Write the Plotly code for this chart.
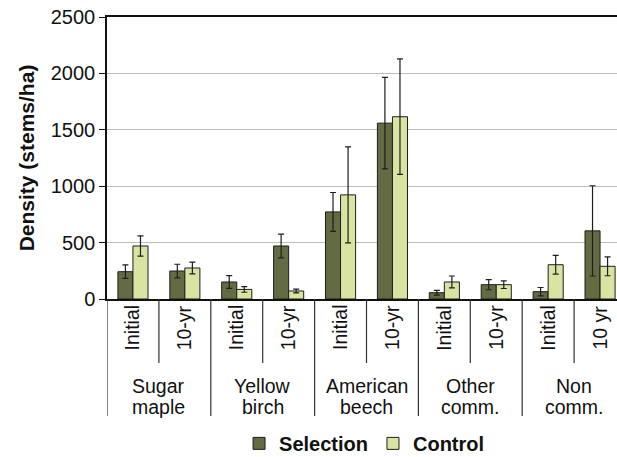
import plotly.graph_objects as go

# ---- data ----
species = ["Sugar maple", "Yellow birch", "American beech", "Other comm.", "Non comm."]
group_label_lines = [["Sugar", "maple"], ["Yellow", "birch"], ["American", "beech"],
                     ["Other", "comm."], ["Non", "comm."]]
periods = ["Initial", "10-yr", "Initial", "10-yr", "Initial", "10-yr", "Initial", "10-yr", "Initial", "10 yr"]
categories = [f"{species[i // 2]}|{periods[i]}" for i in range(10)]

selection = [242, 248, 151, 470, 772, 1559, 56, 127, 65, 604]
selection_err = [60, 60, 57, 105, 172, 405, 21, 45, 37, 400]
control = [470, 275, 85, 71, 923, 1616, 151, 127, 304, 290]
control_err = [90, 52, 25, 16, 426, 512, 53, 34, 83, 84]

FONT = "Liberation Sans, Arial, sans-serif"
DARK = "#636B43"
LIGHT = "#D9E4A3"
EDGE = "#1E1E1E"

fig = go.Figure()
fig.add_trace(go.Bar(
    name="Selection", x=categories, y=selection,
    marker=dict(color=DARK, line=dict(color=EDGE, width=1)),
    error_y=dict(type="data", array=selection_err, color=EDGE, thickness=1.2, width=3),
))
fig.add_trace(go.Bar(
    name="Control", x=categories, y=control,
    marker=dict(color=LIGHT, line=dict(color=EDGE, width=1)),
    error_y=dict(type="data", array=control_err, color=EDGE, thickness=1.2, width=3),
))

n = len(categories)
x_min = -0.5
x_max = -0.5 + 510 / 51.9

shapes = []
for i in range(n + 1):
    is_group = (i % 2 == 0)
    shapes.append(dict(type="line", xref="x", yref="paper",
                       x0=i - 0.5, x1=i - 0.5, y0=0, y1=-0.415 if is_group else -0.227,
                       line=dict(color="#333333", width=1.2)))

annotations = []
for i, p in enumerate(periods):
    annotations.append(dict(x=categories[i], y=-0.101, xref="x", yref="paper",
                            text=p, textangle=-90, showarrow=False,
                            font=dict(family=FONT, size=19.5, color="#111111"),
                            xanchor="center", yanchor="middle"))
for g, lines in enumerate(group_label_lines):
    for k, line in enumerate(lines):
        annotations.append(dict(x=2 * g + 0.5, y=-0.309 - 0.074 * k, xref="x", yref="paper",
                                text=line, showarrow=False,
                                font=dict(family=FONT, size=19.5, color="#111111"),
                                xanchor="center", yanchor="middle"))

fig.update_layout(
    width=617, height=457,
    margin=dict(l=107, r=0, t=17, b=158, pad=0, autoexpand=False),
    paper_bgcolor="white", plot_bgcolor="white",
    font=dict(family=FONT, size=19.5, color="#111111"),
    barmode="group", bargap=0.42, bargroupgap=0,
    showlegend=True,
    legend=dict(orientation="h", x=0.505, xanchor="center", y=-0.512, yanchor="middle",
                font=dict(family=FONT, size=20, color="#111111", weight="bold"),
                itemwidth=30, traceorder="normal", tracegroupgap=0),
    xaxis=dict(type="category", range=[x_min, x_max], showticklabels=False, ticks="",
               showline=True, linecolor="#111111", linewidth=1.5, mirror=True,
               showgrid=False, zeroline=False, fixedrange=True),
    yaxis=dict(range=[0, 2500], dtick=500, tickmode="linear",
               showline=True, linecolor="#111111", linewidth=1.5,
               ticks="outside", ticklen=6, tickcolor="#111111", tickwidth=1.2,
               showgrid=True, gridcolor="#BDBDBD", gridwidth=1.2, zeroline=False,
               tickfont=dict(family=FONT, size=20, color="#111111"),
               title=dict(text="Density (stems/ha)", standoff=10,
                          font=dict(family=FONT, size=21, color="#111111", weight="bold"))),
    shapes=shapes,
    annotations=annotations,
)

fig.write_html("out.html")
